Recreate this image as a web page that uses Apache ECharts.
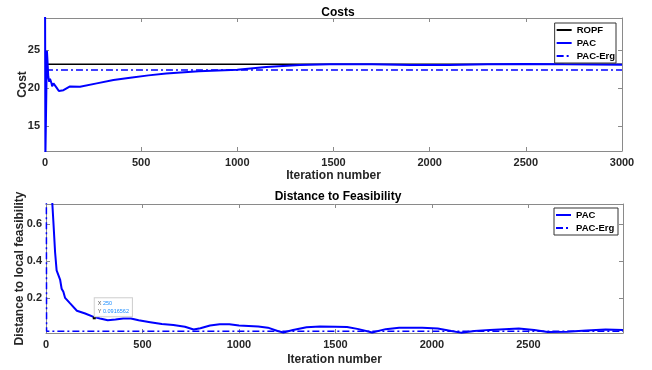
<!DOCTYPE html>
<html>
<head>
<meta charset="utf-8">
<script src="https://cdn.jsdelivr.net/npm/echarts@6/dist/echarts.min.js"></script>
<style>html,body{margin:0;padding:0;background:#fff}#c{width:652px;height:370px}</style>
</head>
<body>
<div id="c"></div>
<script>
// ---- Costs subplot ----
const costIter = [0, 2, 5, 10, 13, 17, 22, 26, 30, 34, 37, 44, 52, 61, 72, 82, 96, 130, 182, 269, 356, 443, 538, 630, 800, 1000, 1150, 1325, 1480, 1700, 1900, 2100, 2300, 2500, 2700, 3000];
const costPAC  = [35, 11, 16, 24.9, 23.5, 21.5, 20.8, 21.2, 21.3, 20.6, 20.2, 20.6, 20.4, 20.0, 19.6, 19.4, 19.7, 20.2, 20.15, 20.6, 21.05, 21.35, 21.65, 21.9, 22.2, 22.4, 22.75, 23.0, 23.1, 23.1, 23.0, 23.0, 23.1, 23.15, 23.1, 23.05];
const ropfIter = [0, 3000];
const ropfCost = [23.1, 23.1];
const ergCostIter = [5, 3000];
const ergCost = [22.37, 22.37];
const costTicks = [15, 20, 25];

// ---- Distance to feasibility subplot ----
const distIter = [0, 27, 33, 38, 47, 55, 64, 73, 81, 90, 99, 125, 160, 203, 246, 250, 280, 320, 360, 400, 440, 480, 540, 600, 660, 720, 765, 800, 850, 900, 950, 1000, 1100, 1150, 1200, 1230, 1280, 1350, 1420, 1500, 1560, 1620, 1690, 1760, 1830, 1950, 2030, 2100, 2150, 2220, 2300, 2450, 2530, 2600, 2700, 2800, 2900, 2990];
const distPAC  = [2.0, 0.9, 0.71, 0.62, 0.45, 0.35, 0.34, 0.3, 0.25, 0.233, 0.2, 0.17, 0.13, 0.115, 0.097, 0.0917, 0.088, 0.078, 0.082, 0.088, 0.088, 0.078, 0.068, 0.058, 0.053, 0.043, 0.028, 0.035, 0.05, 0.056, 0.057, 0.05, 0.045, 0.038, 0.02, 0.012, 0.025, 0.04, 0.044, 0.043, 0.042, 0.03, 0.012, 0.03, 0.037, 0.038, 0.033, 0.02, 0.011, 0.02, 0.026, 0.033, 0.025, 0.014, 0.016, 0.022, 0.028, 0.025];
const ergDistIter = [0, 3, 2990];
const ergDist = [2.0, 0.018, 0.018];
const distTicks = [0.2, 0.4, 0.6];
const distXTicks = [0, 500, 1000, 1500, 2000, 2500];
const dataTip = [250, 0.0916562];

const zip = (a, b) => a.map((x, i) => [x, b[i]]);
const FONT = 'Liberation Sans';
const BLUE = '#0000ff';
const AX = '#8a8a8a';
const TXT = '#262626';
const dashDot = [7, 3, 2, 3];
const plain = v => String(v);

function xAx(gi, min, max, opts) {
  const base = {
    type: 'value', gridIndex: gi, min: min, max: max,
    axisLine: { show: true, onZero: false, lineStyle: { color: AX, width: 1 } },
    axisTick: { show: true, inside: true, length: 4, lineStyle: { color: AX } },
    splitLine: { show: false },
    axisLabel: { show: true, formatter: plain, color: TXT, fontFamily: FONT, fontWeight: 'bold', fontSize: 11, margin: 6 },
    name: 'Iteration number', nameLocation: 'middle', nameGap: 19, nameMoveOverlap: false,
    nameTextStyle: { color: TXT, fontFamily: FONT, fontWeight: 'bold', fontSize: 12 }
  };
  return Object.assign(base, opts || {});
}
function xAxTop(gi, min, max, opts) {
  return Object.assign({
    type: 'value', gridIndex: gi, min: min, max: max, position: 'top',
    axisLine: { show: true, onZero: false, lineStyle: { color: AX, width: 1 } },
    axisTick: { show: true, inside: true, length: 4, lineStyle: { color: AX } },
    axisLabel: { show: false }, splitLine: { show: false }
  }, opts || {});
}
function yAx(gi, min, max, ticks, name, pos, gap, margin) {
  const left = pos === 'left';
  return {
    type: 'value', gridIndex: gi, min: min, max: max, position: pos,
    axisLine: { show: true, onZero: false, lineStyle: { color: AX, width: 1 } },
    axisTick: { show: true, inside: true, length: 4, customValues: ticks, lineStyle: { color: AX } },
    axisLabel: { show: left, customValues: ticks, formatter: plain, color: TXT, fontFamily: FONT, fontWeight: 'bold', fontSize: 11, margin: margin || 5 },
    splitLine: { show: false },
    name: left ? name : '', nameLocation: 'middle', nameGap: gap || 17, nameMoveOverlap: false,
    nameTextStyle: { color: TXT, fontFamily: FONT, fontWeight: 'bold', fontSize: 12 }
  };
}

const chart = echarts.init(document.getElementById('c'), null, { renderer: 'canvas' });
const legendBase = {
  orient: 'vertical', itemWidth: 15, itemHeight: 10, itemGap: 3,
  padding: [2, 1, 2, 1], borderColor: '#333', borderWidth: 1, backgroundColor: '#fff',
  itemStyle: { opacity: 0 },
  textStyle: { color: '#000', fontFamily: FONT, fontWeight: 'bold', fontSize: 9.5 }, selectedMode: false
};
chart.setOption({
  animation: false,
  backgroundColor: '#fff',
  title: [
    { text: 'Costs', left: 333, top: 2, textAlign: 'center', textStyle: { color: '#000', fontFamily: FONT, fontWeight: 'bold', fontSize: 12 } },
    { text: 'Distance to Feasibility', left: 333, top: 186, textAlign: 'center', textStyle: { color: '#000', fontFamily: FONT, fontWeight: 'bold', fontSize: 12 } }
  ],
  grid: [
    { left: 45, top: 18, width: 577, height: 133, outerBoundsMode: 'none', containLabel: false },
    { left: 46, top: 204, width: 577, height: 129, outerBoundsMode: 'none', containLabel: false }
  ],
  legend: [
    Object.assign({ right: 36, top: 23, data: ['ROPF', 'PAC', 'PAC-Erg'] }, legendBase),
    Object.assign({ right: 34, top: 208, data: ['PAC ', 'PAC-Erg '] }, legendBase)
  ],
  xAxis: [
    xAx(0, 0, 3000, { interval: 500 }),
    xAxTop(0, 0, 3000, { interval: 500 }),
    xAx(1, 0, 2990, { nameGap: 21, axisLabel: { show: true, customValues: distXTicks, formatter: plain, color: TXT, fontFamily: FONT, fontWeight: 'bold', fontSize: 11, margin: 6 }, axisTick: { show: true, inside: true, length: 4, customValues: distXTicks, lineStyle: { color: AX } } }),
    xAxTop(1, 0, 2990, { axisTick: { show: true, inside: true, length: 4, customValues: distXTicks, lineStyle: { color: AX } } })
  ],
  yAxis: [
    yAx(0, 11.7, 29.2, costTicks, 'Cost', 'left', 16, 5),
    yAx(0, 11.7, 29.2, costTicks, '', 'right'),
    yAx(1, 0.009, 0.711, distTicks, 'Distance to local feasibility', 'left', 20, 4),
    yAx(1, 0.009, 0.711, distTicks, '', 'right')
  ],
  series: [
    { name: 'ROPF', type: 'line', xAxisIndex: 0, yAxisIndex: 0, data: zip(ropfIter, ropfCost), symbol: 'none', lineStyle: { color: '#000', width: 1.5 }, itemStyle: { color: '#000' }, z: 2 },
    { name: 'PAC', type: 'line', xAxisIndex: 0, yAxisIndex: 0, data: zip(costIter, costPAC), symbol: 'none', lineStyle: { color: BLUE, width: 2 }, itemStyle: { color: BLUE }, z: 3 },
    { name: 'PAC-Erg', type: 'line', xAxisIndex: 0, yAxisIndex: 0, data: zip(ergCostIter, ergCost), symbol: 'none', lineStyle: { color: BLUE, width: 1.5, type: dashDot }, itemStyle: { color: BLUE }, z: 4 },
    { name: 'PAC ', type: 'line', xAxisIndex: 2, yAxisIndex: 2, data: zip(distIter, distPAC), symbol: 'none', lineStyle: { color: BLUE, width: 2 }, itemStyle: { color: BLUE }, z: 3,
      markPoint: {
        symbol: 'rect', symbolSize: 3, itemStyle: { color: '#000', opacity: 1 }, animation: false,
        data: [{ coord: dataTip, value: dataTip[1] }],
        label: {
          show: true, position: [2, 0], align: 'left', verticalAlign: 'bottom',
          fontSize: 5.5, lineHeight: 7.5, fontFamily: FONT,
          formatter: '{k|X }{v|' + dataTip[0] + '}\n{k|Y }{v|' + dataTip[1] + '}',
          backgroundColor: 'rgba(255,255,255,0.95)', borderColor: '#cfcfcf', borderWidth: 1, padding: [1.5, 3, 1.5, 3],
          rich: {
            k: { fontSize: 5.5, color: '#555', fontFamily: FONT, lineHeight: 7.5 },
            v: { fontSize: 5.5, color: '#1a8cff', fontFamily: FONT, lineHeight: 7.5 }
          }
        }
      }
    },
    { name: 'PAC-Erg ', type: 'line', xAxisIndex: 2, yAxisIndex: 2, data: zip(ergDistIter, ergDist), symbol: 'none', lineStyle: { color: BLUE, width: 1.5, type: dashDot }, itemStyle: { color: BLUE }, z: 4 }
  ]
});
</script>
</body>
</html>
